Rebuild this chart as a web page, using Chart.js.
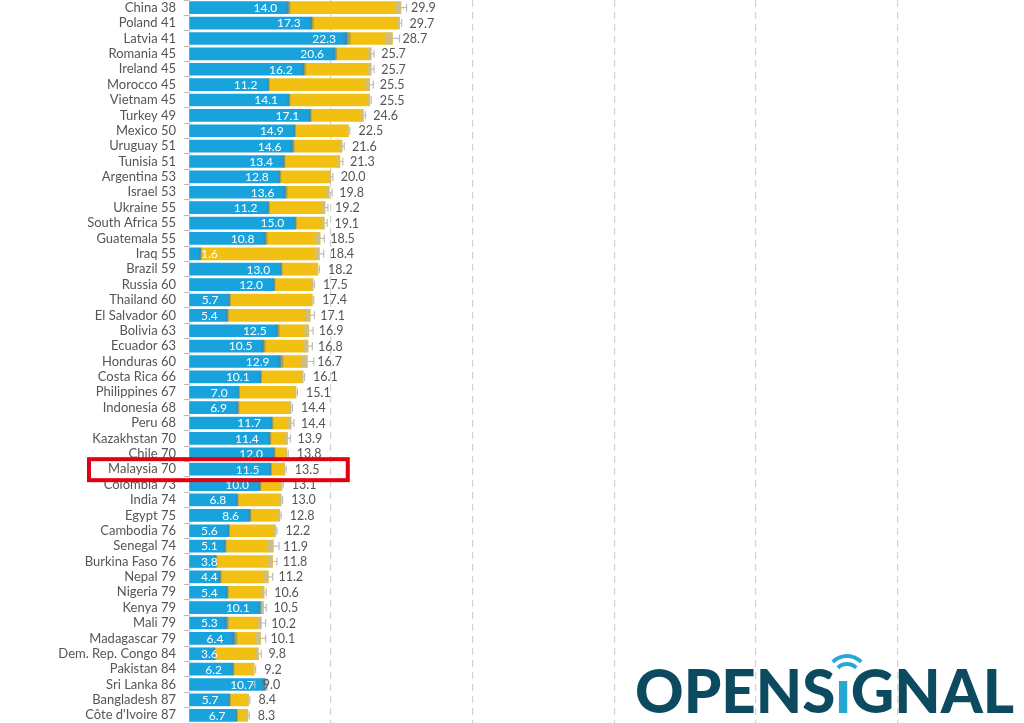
<!DOCTYPE html>
<html>
<head>
<meta charset="utf-8">
<script src="https://cdn.jsdelivr.net/npm/chart.js@4/dist/chart.umd.min.js"></script>
<style>
  html, body { margin: 0; padding: 0; background: #fff; }
  #wrap { position: relative; width: 1024px; height: 723px; overflow: hidden; }
  #logo {
    position: absolute; left: 635px; top: 655px;
    font-family: Lato, sans-serif; font-weight: 900; font-size: 60px;
    color: #0c4a5f; letter-spacing: 0px; line-height: 70px;
  }
  #logo .i { color: #2aa6d2; position: relative; }
  .arc {
    position: absolute; border: 4px solid #2aa6d2; border-color: #2aa6d2 transparent transparent transparent;
    border-radius: 50%;
  }
</style>
</head>
<body>
<div id="wrap">
  <canvas id="chart" width="1024" height="723"></canvas>
  <div id="logo">OPENS<span class="i">ı<span class="arc" style="left:-3px;top:8px;width:22px;height:22px;"></span><span class="arc" style="left:-10px;top:0px;width:36px;height:36px;"></span></span>GNAL</div>
</div>
<script>
const countries = ['China', 'Poland', 'Latvia', 'Romania', 'Ireland', 'Morocco', 'Vietnam', 'Turkey', 'Mexico',
  'Uruguay', 'Tunisia', 'Argentina', 'Israel', 'Ukraine', 'South Africa', 'Guatemala', 'Iraq', 'Brazil', 'Russia',
  'Thailand', 'El Salvador', 'Bolivia', 'Ecuador', 'Honduras', 'Costa Rica', 'Philippines', 'Indonesia', 'Peru',
  'Kazakhstan', 'Chile', 'Malaysia', 'Colombia', 'India', 'Egypt', 'Cambodia', 'Senegal', 'Burkina Faso', 'Nepal',
  'Nigeria', 'Kenya', 'Mali', 'Madagascar', 'Dem. Rep. Congo', 'Pakistan', 'Sri Lanka', 'Bangladesh', "Côte d'Ivoire"];
const ranks = [38, 41, 41, 45, 45, 45, 45, 49, 50, 51, 51, 53, 53, 55, 55, 55, 55, 59, 60, 60, 60, 63, 63, 60, 66,
  67, 68, 68, 70, 70, 70, 73, 74, 75, 76, 74, 76, 79, 79, 79, 79, 79, 84, 84, 86, 87, 87];
// blue segment
const blueValues = [14.0, 17.3, 22.3, 20.6, 16.2, 11.2, 14.1, 17.1, 14.9, 14.6, 13.4, 12.8, 13.6, 11.2, 15.0, 10.8,
  1.6, 13.0, 12.0, 5.7, 5.4, 12.5, 10.5, 12.9, 10.1, 7.0, 6.9, 11.7, 11.4, 12.0, 11.5, 10.0, 6.8, 8.6, 5.6, 5.1,
  3.8, 4.4, 5.4, 10.1, 5.3, 6.4, 3.6, 6.2, 10.7, 5.7, 6.7];
// overall value (end of bar)
const totals = [29.9, 29.7, 28.7, 25.7, 25.7, 25.5, 25.5, 24.6, 22.5, 21.6, 21.3, 20.0, 19.8, 19.2, 19.1, 18.5,
  18.4, 18.2, 17.5, 17.4, 17.1, 16.9, 16.8, 16.7, 16.1, 15.1, 14.4, 14.4, 13.9, 13.8, 13.5, 13.1, 13.0, 12.8, 12.2,
  11.9, 11.8, 11.2, 10.6, 10.5, 10.2, 10.1, 9.8, 9.2, 9.0, 8.4, 8.3];
// confidence intervals (half widths)
const blueErr = [0.3, 0.3, 0.5, 0.3, 0.3, 0.2, 0.2, 0.2, 0.2, 0.3, 0.2, 0.2, 0.3, 0.2, 0.2, 0.3, 0.2, 0.2, 0.2, 0.2,
  0.2, 0.3, 0.3, 0.4, 0.2, 0.2, 0.2, 0.2, 0.2, 0.2, 0.2, 0.2, 0.2, 0.2, 0.2, 0.2, 0.2, 0.2, 0.2, 0.3, 0.3, 0.4,
  0.2, 0.2, 0.4, 0.2, 0.2];
const totalErr = [0.8, 0.3, 1.0, 0.4, 0.4, 0.5, 0.2, 0.3, 0.2, 0.3, 0.4, 0.3, 0.4, 0.4, 0.4, 0.6, 0.6, 0.2, 0.2,
  0.2, 0.6, 0.6, 0.6, 0.9, 0.2, 0.2, 0.2, 0.4, 0.4, 0.2, 0.2, 0.2, 0.2, 0.2, 0.2, 0.8, 0.6, 0.6, 0.3, 0.4, 0.6,
  0.7, 0.4, 0.2, 0.3, 0.2, 0.2];
const highlight = 'Malaysia';

const BLUE = '#19a3dc';
const YELLOW = '#f2c012';

const labels = countries.map((c, i) => c + ' ' + ranks[i]);

const overlayPlugin = {
  id: 'overlay',
  afterDatasetsDraw(chart) {
    const ctx = chart.ctx;
    const x = chart.scales.x;
    const meta = chart.getDatasetMeta(0);
    ctx.save();
    meta.data.forEach((bar, i) => {
      const h = bar.height;
      const y = bar.y;
      const b = blueValues[i], t = totals[i];
      // blue CI band
      const bx0 = x.getPixelForValue(b - blueErr[i]), bx1 = x.getPixelForValue(b + blueErr[i]);
      ctx.fillStyle = 'rgba(90,120,140,0.45)';
      ctx.fillRect(bx0, y - h / 2, bx1 - bx0, h);
      // total CI band + whisker
      const tx0 = x.getPixelForValue(t - totalErr[i]), tx1 = x.getPixelForValue(t + totalErr[i]);
      const tx = x.getPixelForValue(t);
      if (t >= b) {
        ctx.fillStyle = 'rgba(190,190,185,0.7)';
        ctx.fillRect(tx0, y - h / 2, tx - tx0, h);
      }
      ctx.strokeStyle = '#bdbdbd';
      ctx.lineWidth = 1.2;
      ctx.beginPath();
      ctx.moveTo(tx, y); ctx.lineTo(tx1, y);
      ctx.moveTo(tx1, y - 4); ctx.lineTo(tx1, y + 4);
      ctx.stroke();
      // labels
      ctx.font = '12px Lato, sans-serif';
      ctx.textBaseline = 'middle';
      const bt = b.toFixed(1);
      const w = ctx.measureText(bt).width;
      const bEnd = x.getPixelForValue(b);
      ctx.fillStyle = '#ffffff';
      ctx.textAlign = 'left';
      ctx.fillText(bt, Math.max(bEnd - 11 - w, x.left + 12), y + 0.5);
      ctx.font = '12.5px Lato, sans-serif';
      ctx.fillStyle = '#555555';
      ctx.fillText(t.toFixed(1), tx + 10, y + 0.5);
    });
    // highlight box
    const hi = countries.indexOf(highlight);
    const hy = chart.scales.y.getPixelForValue(hi);
    ctx.strokeStyle = '#e3000f';
    ctx.lineWidth = 4;
    ctx.strokeRect(89, hy - 10, x.getPixelForValue(22.4) - 89, 21);
    ctx.restore();
  }
};

new Chart(document.getElementById('chart'), {
  type: 'bar',
  data: {
    labels: labels,
    datasets: [
      { data: blueValues.map(v => [0, v]), backgroundColor: BLUE, grouped: false, barThickness: 12 },
      { data: blueValues.map((v, i) => [v, Math.max(v, totals[i])]), backgroundColor: YELLOW, grouped: false, barThickness: 12 }
    ]
  },
  plugins: [overlayPlugin],
  options: {
    indexAxis: 'y',
    responsive: false,
    animation: false,
    layout: { padding: 0 },
    plugins: { legend: { display: false }, tooltip: { enabled: false } },
    scales: {
      x: {
        min: 0,
        max: 117.8,
        afterFit: s => { s.height = 0; s.paddingLeft = 0; s.paddingRight = 0; },
        ticks: { display: false, stepSize: 20 },
        grid: {
          drawTicks: false,
          color: c => (c.tick && c.tick.value > 0 && c.tick.value % 20 === 0) ? '#d2d2d2' : 'transparent',
          lineWidth: 1.2
        },
        border: { display: false, dash: [7, 5] }
      },
      y: {
        afterFit: s => { s.width = 189; s.paddingTop = 0; s.paddingBottom = 0; },
        border: { display: true, color: '#d6d6d6' },
        grid: { drawOnChartArea: false, tickLength: 5, color: '#bbbbbb' },
        ticks: { color: '#555555', font: { family: 'Lato', size: 13 }, padding: 8, autoSkip: false }
      }
    }
  }
});
</script>
</body>
</html>
